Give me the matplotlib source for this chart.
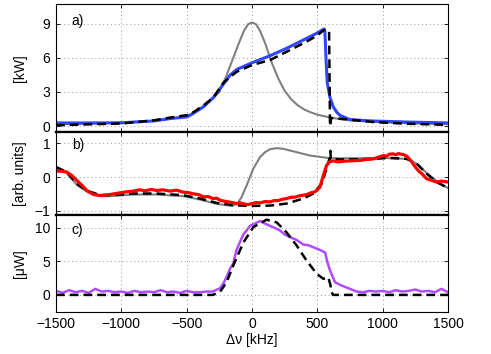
import matplotlib
matplotlib.use("Agg")
import matplotlib.pyplot as plt

plt.rcParams['font.family'] = ['Liberation Sans', 'DejaVu Sans']
plt.rcParams['font.size'] = 10

# ---------------- panel a) [kW] ----------------
a_gray_x = [-1500, -1250, -1000, -750, -500, -400, -300, -250, -200, -150, -100, -60, -30, 0,
            30, 60, 100, 150, 200, 250, 300, 350, 400, 450, 500, 600, 700, 800, 1000, 1250, 1500]
a_gray_y = [0.15, 0.2, 0.3, 0.45, 0.85, 1.5, 2.4, 3.0, 4.3, 5.8, 7.3, 8.4, 8.95, 9.1,
            8.95, 8.4, 7.3, 5.6, 4.2, 3.1, 2.35, 1.82, 1.45, 1.2, 1.0, 0.74, 0.56, 0.45, 0.32, 0.22, 0.16]

a_blue_x = [-1500, -1250, -1000, -750, -627, -500, -474, -372, -296, -219, -168, -117, 0,
            138, 265, 393, 495, 551, 558, 566, 576, 597, 622, 650, 673, 750, 927, 1184, 1500]
a_blue_y = [0.27, 0.27, 0.28, 0.45, 0.65, 0.8, 0.94, 1.68, 2.5, 3.68, 4.47, 4.97, 5.56,
            6.18, 6.83, 7.56, 8.15, 8.53, 8.3, 6.0, 3.8, 2.5, 1.68, 1.2, 0.94, 0.56, 0.44, 0.35, 0.27]

a_fit_x = [-1500, -1250, -1000, -750, -627, -500, -450, -372, -296, -219, -168, -117, 0,
           138, 265, 393, 495, 551, 590, 597, 600, 603, 700, 750, 927, 1184, 1500]
a_fit_y = [0.06, 0.15, 0.22, 0.5, 0.74, 0.95, 1.2, 1.8, 2.5, 3.8, 4.3, 4.77, 5.36,
           5.8, 6.53, 7.27, 7.92, 8.45, 8.4, 0.0, 0.0, 0.7, 0.62, 0.56, 0.35, 0.2, 0.1]

# ---------------- panel b) [arb. units] ----------------
b_gray_x = [-1500, -1418, -1341, -1265, -1214, -1163, -1087, -1010, -908, -729, -526, -398, -270,
            -150, -110, -80, -41, 10, 61, 100, 138, 189, 240, 291, 444, 597, 800, 1005, 1184,
            1260, 1337, 1413, 1500]
b_gray_y = [0.27, 0.12, -0.23, -0.43, -0.5, -0.57, -0.57, -0.55, -0.52, -0.52, -0.57, -0.67, -0.8,
            -0.86, -0.78, -0.6, -0.25, 0.25, 0.59, 0.74, 0.83, 0.86, 0.84, 0.79, 0.64, 0.56, 0.56,
            0.57, 0.54, 0.4, 0.12, -0.12, -0.33]

b_red_x = [-1500, -1450, -1418, -1380, -1341, -1300, -1265, -1214, -1163, -1087, -1010, -960,
           -908, -860, -820, -770, -729, -680, -627, -580, -526, -490, -450, -410, -372, -335,
           -300, -270, -245, -210, -180, -150, -117, -90, -60, -30, 0, 30, 60, 100, 138, 170,
           200, 235, 265, 300, 330, 360, 393, 420, 450, 475, 495, 520, 546, 571, 592, 622, 660,
           700, 750, 801, 840, 870, 900, 928, 960, 1005, 1030, 1050, 1082, 1100, 1120, 1140,
           1158, 1185, 1209, 1235, 1260, 1280, 1300, 1337, 1375, 1413, 1450, 1500]
b_red_y = [0.18, 0.17, 0.15, 0.05, -0.1, -0.25, -0.4, -0.52, -0.55, -0.52, -0.47, -0.44,
           -0.42, -0.38, -0.41, -0.37, -0.4, -0.38, -0.42, -0.39, -0.45, -0.46, -0.5, -0.52,
           -0.59, -0.58, -0.64, -0.63, -0.69, -0.72, -0.74, -0.76, -0.79, -0.77, -0.8, -0.82,
           -0.79, -0.76, -0.77, -0.73, -0.74, -0.7, -0.7, -0.66, -0.64, -0.6, -0.6, -0.56,
           -0.54, -0.52, -0.47, -0.45, -0.4, -0.3, 0.05, 0.35, 0.45, 0.48, 0.45, 0.47, 0.48,
           0.49, 0.5, 0.52, 0.53, 0.54, 0.58, 0.64, 0.62, 0.68, 0.69, 0.66, 0.7, 0.68, 0.67,
           0.62, 0.52, 0.38, 0.25, 0.16, 0.1, -0.05, -0.1, -0.15, -0.12, -0.15]

b_fit_x = [-1500, -1418, -1341, -1265, -1214, -1163, -1087, -1010, -908, -729, -526, -398, -270,
           -143, 0, 138, 265, 393, 469, 533, 571, 592, 597, 600, 603, 673, 800, 928, 1056, 1184,
           1260, 1337, 1413, 1500]
b_fit_y = [0.3, 0.15, -0.2, -0.4, -0.47, -0.54, -0.54, -0.52, -0.49, -0.49, -0.54, -0.64, -0.77,
           -0.84, -0.86, -0.85, -0.79, -0.64, -0.49, -0.2, 0.25, 0.54, 0.54, 0.78, 0.55, 0.52,
           0.53, 0.54, 0.57, 0.54, 0.4, 0.1, -0.15, -0.33]

# ---------------- panel c) [uW] ----------------
c_sig_x = [-1500, -1450, -1400, -1350, -1300, -1250, -1200, -1150, -1100, -1050, -1000, -950,
           -900, -850, -800, -750, -700, -650, -600, -550, -500, -450, -400, -350, -300, -245,
           -219, -194, -168, -143, -120, -92, -66, -41, -15, 20, 61, 112, 160, 214, 250, 291,
           340, 393, 430, 469, 520, 560, 575, 597, 635, 673, 710, 750, 801, 850, 900, 950, 1000,
           1050, 1100, 1150, 1200, 1250, 1300, 1350, 1400, 1450, 1500]
c_sig_y = [0.6, 0.3, 0.7, 0.4, 0.6, 0.3, 0.9, 0.5, 0.6, 0.4, 0.5, 0.3, 0.6, 0.4, 0.5, 0.4,
           0.7, 0.4, 0.5, 0.3, 0.6, 0.4, 0.4, 0.5, 0.5, 1.0,
           1.7, 2.7, 3.9, 4.7, 6.6, 7.9, 9.0, 9.6, 10.3, 10.6, 11.0, 10.5, 10.1, 9.6, 9.0, 8.6,
           8.2, 7.5, 7.4, 7.1, 6.7, 6.3, 5.0, 3.65, 1.9, 1.5, 1.2, 0.9, 0.5, 0.4, 0.6, 0.5, 0.6,
           0.4, 0.7, 0.5, 0.6, 0.8, 0.5, 0.6, 0.4, 0.9, 0.4]

c_fit_x = [-1500, -300, -245, -194, -143, -66, 10, 112, 189, 265, 342, 418, 495, 546, 584,
           600, 610, 620, 1500]
c_fit_y = [0, 0, 0.45, 1.9, 4.4, 7.8, 10.1, 11.2, 10.8, 9.3, 7.35, 5.1, 3.15, 2.4, 2.6,
           1.5, 0.4, 0, 0]

x_ticks = [-1500, -1000, -500, 0, 500, 1000, 1500]

GRAY = '#808080'
BLUE = '#2f45ff'
RED = '#ff0000'
VIOLET = '#b04cff'
dash = (3.5, 2.0)

fig = plt.figure(figsize=(4.91, 3.54), dpi=100)
L, R = 56 / 491, 448 / 491
W = R - L
axa = fig.add_axes([L, 1 - 131.7 / 354, W, (131.7 - 4.3) / 354])
axb = fig.add_axes([L, 1 - 215 / 354, W, (215 - 131.7) / 354])
axc = fig.add_axes([L, 1 - 311.7 / 354, W, (311.7 - 215) / 354])

axa.plot(a_gray_x, a_gray_y, color=GRAY, lw=1.5)
axa.plot(a_blue_x, a_blue_y, color=BLUE, lw=2.2)
axa.plot(a_fit_x, a_fit_y, color='black', lw=1.8, dashes=dash)
axa.set_ylim(-0.5, 10.7)
axa.set_yticks([0, 3, 6, 9])
axa.set_ylabel('[kW]')

axb.plot(b_gray_x, b_gray_y, color=GRAY, lw=1.5)
axb.plot(b_fit_x, b_fit_y, color='black', lw=1.8, dashes=dash)
axb.plot(b_red_x, b_red_y, color=RED, lw=2.3)
axb.set_ylim(-1.13, 1.35)
axb.set_yticks([-1, 0, 1])
axb.set_ylabel('[arb. units]')

axc.plot(c_sig_x, c_sig_y, color=VIOLET, lw=1.8)
axc.plot(c_fit_x, c_fit_y, color='black', lw=1.8, dashes=dash)
axc.set_ylim(-2.5, 11.9)
axc.set_yticks([0, 5, 10])
axc.set_ylabel('[μW]')
axc.set_xlabel('Δν [kHz]', labelpad=1)

for ax, lab in zip([axa, axb, axc], ['a)', 'b)', 'c)']):
    ax.set_xlim(-1500, 1500)
    ax.set_xticks(x_ticks)
    ax.grid(True, ls=(0, (1, 3)), color='#999999', lw=0.7)
    ax.tick_params(direction='in', top=True, right=True, length=3, width=0.6, pad=4)
    for s in ax.spines.values():
        s.set_linewidth(0.8)
    ax.text(0.04, 0.92, lab, transform=ax.transAxes, ha='left', va='top')
    ax.yaxis.set_label_coords(-0.074, 0.5)

axa.tick_params(labelbottom=False)
axb.tick_params(labelbottom=False)
axa.spines['bottom'].set_linewidth(1.6)
axb.spines['top'].set_linewidth(1.6)
axb.spines['bottom'].set_linewidth(1.6)
axc.spines['top'].set_linewidth(1.6)

fig.savefig('out.png', dpi=100)
